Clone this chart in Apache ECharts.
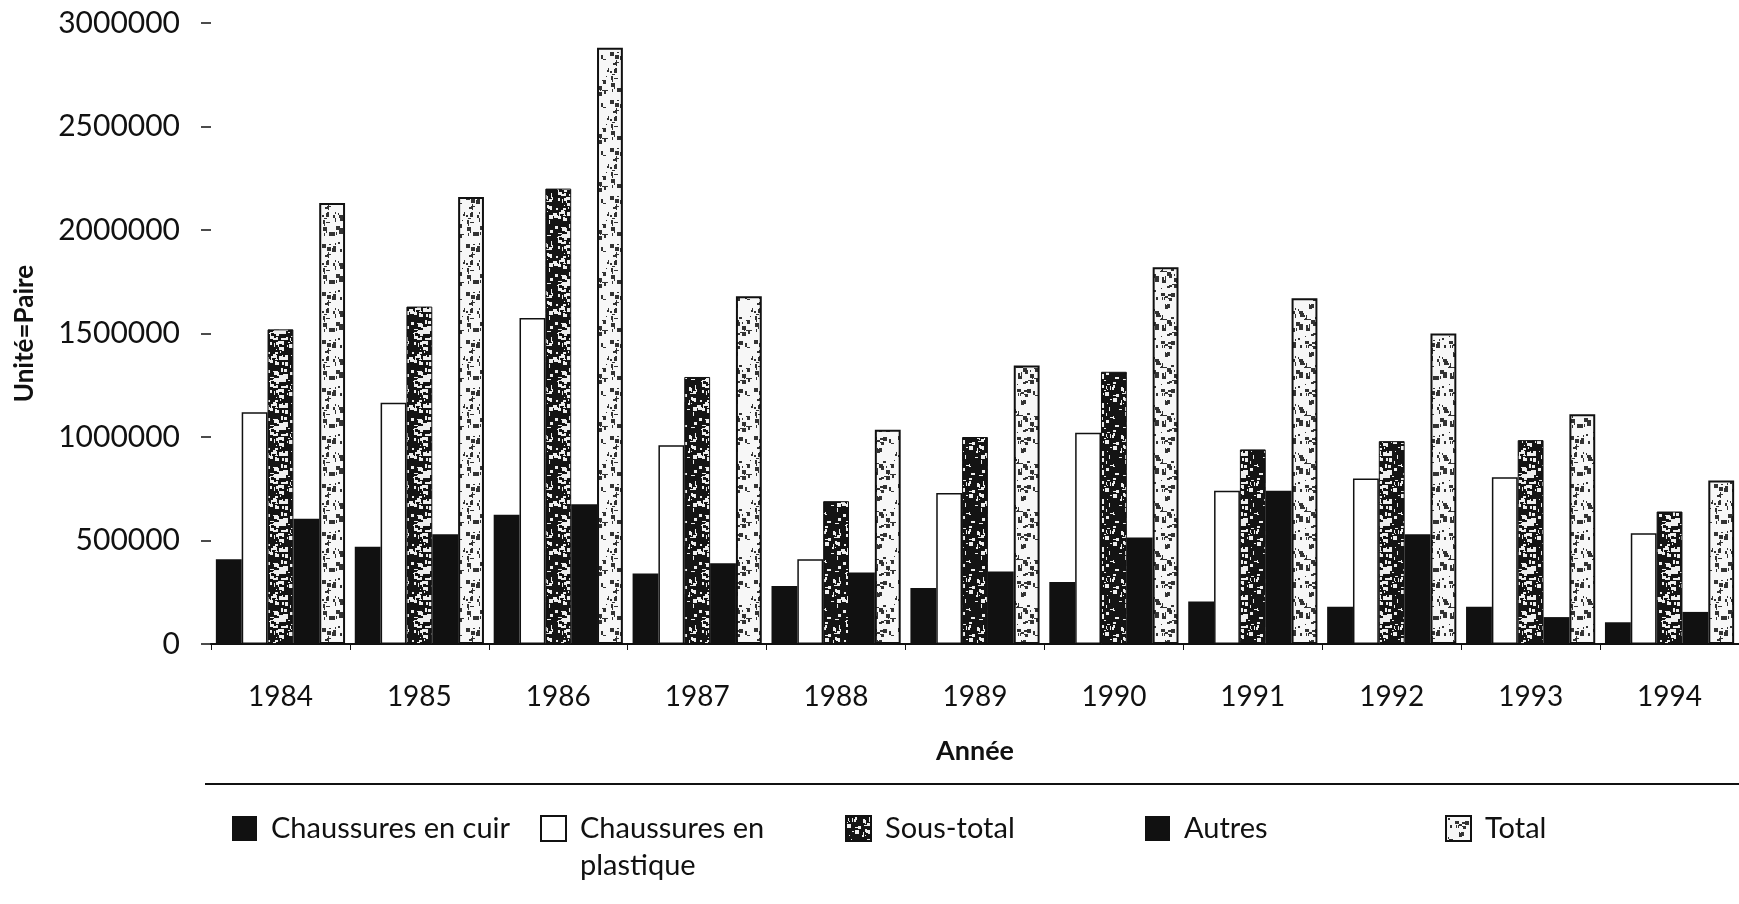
<!DOCTYPE html>
<html>
<head>
<meta charset="utf-8">
<title>Chaussures 1984-1994</title>
<script src="https://cdn.jsdelivr.net/npm/echarts@6/dist/echarts.min.js"></script>
<style>
  html, body { margin: 0; padding: 0; background: #fff; overflow: hidden; }
  #chart { width: 1739px; height: 904px; }
</style>
</head>
<body>
<div id="chart"></div>
<script>
// values (unit: pairs)
const years = ["1984", "1985", "1986", "1987", "1988", "1989", "1990", "1991", "1992", "1993", "1994"];
const cuir = [410000, 470000, 625000, 340000, 280000, 270000, 300000, 205000, 180000, 180000, 105000];
const plastique = [1120000, 1165000, 1575000, 960000, 410000, 730000, 1020000, 740000, 800000, 805000, 535000];
const sousTotal = [1520000, 1630000, 2200000, 1290000, 690000, 1000000, 1315000, 940000, 980000, 985000, 640000];
const autres = [605000, 530000, 675000, 390000, 345000, 350000, 515000, 740000, 530000, 130000, 155000];
const total = [2130000, 2160000, 2880000, 1680000, 1035000, 1345000, 1820000, 1670000, 1500000, 1110000, 790000];
const yTicks = [0, 500000, 1000000, 1500000, 2000000, 2500000, 3000000];

const seriesNames = ["Chaussures en cuir", "Chaussures en plastique", "Sous-total", "Autres", "Total"];

// speckled fill to mimic the photocopied hatching (texture only, fixed seed)
function speckle(base, dot, density, seed) {
  const size = 48;
  const c = document.createElement("canvas");
  c.width = size;
  c.height = size;
  const g = c.getContext("2d");
  g.fillStyle = base;
  g.fillRect(0, 0, size, size);
  let s = seed;
  const next = () => (s = (s * 16807) % 2147483647) / 2147483647;
  g.fillStyle = dot;
  const n = Math.round((size * size * density) / 6);
  for (let i = 0; i < n; i++) {
    const x = Math.floor(next() * size);
    const y = Math.floor(next() * size);
    const w = 1 + Math.floor(next() * 4);
    const h = 1 + Math.floor(next() * 4);
    g.fillRect(x, y, w, h);
  }
  return c;
}

const darkTex = { image: speckle("#141414", "#eeeeee", 0.3, 7), repeat: "repeat" };
const lightTex = { image: speckle("#f7f7f7", "#333333", 0.22, 13), repeat: "repeat" };

const styles = [
  { color: "#111" },
  { color: "#fff", borderColor: "#111", borderWidth: 1.5 },
  { color: darkTex, borderColor: "#111", borderWidth: 1 },
  { color: "#111" },
  { color: lightTex, borderColor: "#111", borderWidth: 2 },
];
const values = [cuir, plastique, sousTotal, autres, total];

const font = "Lato";
const legendLeft = [232, 540, 845, 1145, 1445];

const chart = echarts.init(document.getElementById("chart"));

chart.setOption({
  animation: false,
  backgroundColor: "#fff",
  textStyle: { fontFamily: font, color: "#111" },
  grid: { left: 211, right: -5, top: 23, bottom: 260 },
  xAxis: {
    type: "category",
    data: years,
    name: "Année",
    nameLocation: "middle",
    nameGap: 94,
    nameTextStyle: { fontSize: 27, fontWeight: "bold", color: "#111", fontFamily: font },
    axisLine: { lineStyle: { color: "#111", width: 2 } },
    axisTick: { show: true, length: 6, lineStyle: { color: "#111", width: 1 } },
    axisLabel: { fontSize: 28, color: "#111", margin: 39, lineHeight: 28, fontFamily: font },
  },
  yAxis: {
    type: "value",
    min: yTicks[0],
    max: yTicks[yTicks.length - 1],
    interval: 500000,
    name: "Unité=Paire",
    nameLocation: "middle",
    nameGap: 173,
    nameTextStyle: { fontSize: 26, fontWeight: "bold", color: "#111", fontFamily: font },
    axisLine: { show: false },
    axisTick: { show: true, length: 10, lineStyle: { color: "#111", width: 1.5 } },
    splitLine: { show: false },
    axisLabel: {
      fontSize: 30,
      color: "#111",
      margin: 31,
      fontFamily: font,
      formatter: (v) => String(v),
    },
  },
  legend: seriesNames.map((name, i) => {
    const twoLines = name === "Chaussures en plastique";
    return {
      data: [name],
      left: legendLeft[i],
      top: twoLines ? 773 : 810,
      padding: 0,
      icon: "rect",
      itemWidth: 25,
      itemHeight: 25,
      selectedMode: false,
      // blank first line keeps "Chaussures en" level with the icon
      formatter: twoLines ? " \nChaussures en\nplastique" : "{name}",
      textStyle: {
        fontSize: 29,
        color: "#111",
        fontFamily: font,
        lineHeight: 37,
        padding: [0, 0, 0, 9],
      },
    };
  }),
  graphic: [
    {
      type: "line",
      shape: { x1: 205, y1: 784, x2: 1739, y2: 784 },
      style: { stroke: "#111", lineWidth: 2 },
      silent: true,
    },
  ],
  series: seriesNames.map((name, i) => ({
    name: name,
    type: "bar",
    data: values[i],
    barGap: "0%",
    barCategoryGap: "7%",
    itemStyle: styles[i],
  })),
});
</script>
</body>
</html>
